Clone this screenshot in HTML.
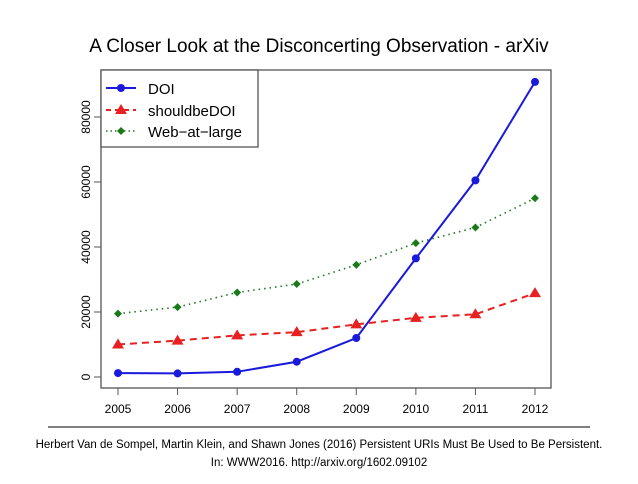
<!DOCTYPE html>
<html><head><meta charset="utf-8"><style>
body{margin:0;background:#fff;width:638px;height:479px;overflow:hidden;font-family:"Liberation Sans",sans-serif}
svg text{font-family:"Liberation Sans",sans-serif}
</style></head><body>
<svg width="638" height="479">
<text x="319" y="52" font-size="19" text-anchor="middle">A Closer Look at the Disconcerting Observation - arXiv</text>
<rect x="101" y="70" width="450" height="318" fill="none" stroke="#555" stroke-width="1.3"/>
<g id="axes"></g>
<g id="series"></g>
<g>
<rect x="101" y="70" width="157" height="77" fill="#fff" stroke="#555" stroke-width="1.3"/>
<g><line x1="106" y1="88" x2="136" y2="88" stroke="#1a1adc" stroke-width="2"/><circle cx="121" cy="88" r="4" fill="#1a1adc"/><text x="148" y="94" font-size="15">DOI</text></g>
<g><line x1="106" y1="110" x2="136" y2="110" stroke="#e82020" stroke-width="2" stroke-dasharray="5,4"/><polygon points="121,104 127,114 115,114" fill="#e82020"/><text x="148" y="116" font-size="15">shouldbeDOI</text></g>
<g><line x1="106" y1="131" x2="136" y2="131" stroke="#1a7a1a" stroke-width="1.5" stroke-dasharray="1.5,3"/><polygon points="121,127 125,131 121,135 117,131" fill="#1a7a1a"/><text x="148" y="137" font-size="15">Web−at−large</text></g>
</g>
<line x1="48" y1="427" x2="590" y2="427" stroke="#000" stroke-width="1"/>
<text x="319" y="448" font-size="11.5" text-anchor="middle">Herbert Van de Sompel, Martin Klein, and Shawn Jones (2016) Persistent URIs Must Be Used to Be Persistent.</text>
<text x="319" y="466" font-size="11.5" text-anchor="middle">In: WWW2016. http://arxiv.org/1602.09102</text>
</svg>
<script>
const years=[2005,2006,2007,2008,2009,2010,2011,2012];
const doi=[1200,1100,1600,4700,12000,36500,60500,90800];
const shouldbeDOI=[10000,11200,12800,13800,16200,18200,19300,25800];
const webAtLarge=[19500,21500,26000,28600,34500,41200,46000,55000];
const yTicks=[0,20000,40000,60000,80000];
const NS="http://www.w3.org/2000/svg";
function xs(y){return 118+(y-2005)*(535-118)/7;}
function ys(v){return 377-v*65/20000;}
function mk(t,a,p){const e=document.createElementNS(NS,t);for(const k in a)e.setAttribute(k,a[k]);p.appendChild(e);return e;}
const ax=document.getElementById('axes');
years.forEach(y=>{
 const l=mk('line',{x1:xs(y),x2:xs(y),y1:388,y2:395,stroke:'#555'},ax);
 
 
 const t=mk('text',{x:xs(y),y:413,'font-size':12,'text-anchor':'middle'},ax);t.textContent=y;
 
 
});
yTicks.forEach(v=>{
 const l=mk('line',{x1:94,x2:101,y1:ys(v),y2:ys(v),stroke:'#555'},ax);
 
 
 const t=mk('text',{x:0,y:0,'font-size':12,'text-anchor':'middle',transform:`translate(90,${ys(v)}) rotate(-90)`},ax);t.textContent=v;
 
 
});
const sg=document.getElementById('series');
function series(vals,color,dash,w,marker,name){
 const g=mk('g',{},sg);
 
 
 mk('polyline',{points:vals.map((v,i)=>xs(years[i])+','+ys(v)).join(' '),fill:'none',stroke:color,'stroke-width':w,'stroke-dasharray':dash},g);
 vals.forEach((v,i)=>{
  const x=xs(years[i]),y=ys(v);let m;
  if(marker==='c')m=mk('circle',{cx:x,cy:y,r:4,fill:color},g);
  else if(marker==='t')m=mk('polygon',{points:`${x},${y-6} ${x+6},${y+4} ${x-6},${y+4}`,fill:color},g);
  else m=mk('polygon',{points:`${x},${y-4} ${x+4},${y} ${x},${y+4} ${x-4},${y}`,fill:color},g);
  
  
 });
}
series(webAtLarge,'#1a7a1a','1.5,4',1.6,'d','series-web-at-large');
series(shouldbeDOI,'#e82020','7,5',2,'t','series-shouldbedoi');
series(doi,'#1a1adc','none',2,'c','series-doi');
</script>
</body></html>
